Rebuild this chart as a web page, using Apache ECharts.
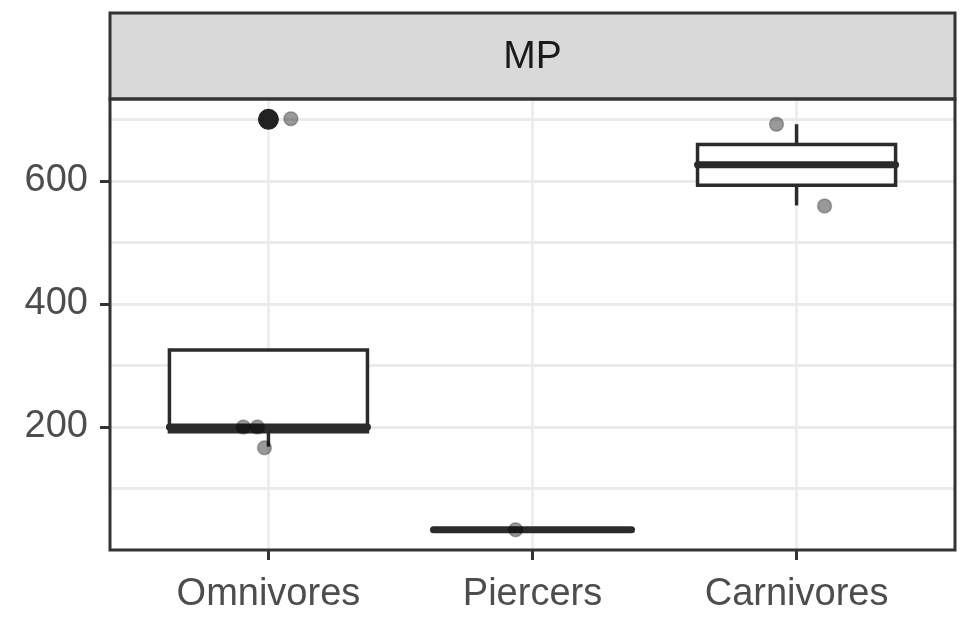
<!DOCTYPE html>
<html><head><meta charset="utf-8">
<script src="https://cdn.jsdelivr.net/npm/echarts@6/dist/echarts.min.js"></script>
<style>html,body{margin:0;padding:0;background:#fff}#c{width:967px;height:621px}</style>
</head><body><div id="c"></div>
<script>
// ---- data ----
const stripLabel = 'MP';
const categories = ['Omnivores', 'Piercers', 'Carnivores'];
const whiskerLow  = [168, 33, 560];
const boxQ1       = [192, 33, 593];
const boxMedian   = [200, 33, 626];
const boxQ3       = [325, 33, 659];
const whiskerHigh = [325, 33, 692];
const outlierCategory = ['Omnivores'];
const outlierValue    = [700];
const pointCategory = ['Omnivores', 'Omnivores', 'Omnivores', 'Omnivores', 'Piercers', 'Carnivores', 'Carnivores'];
const pointJitter   = [0.085, -0.095, -0.042, -0.015, -0.064, -0.076, 0.106];
const pointValue    = [701, 200, 200, 166, 33, 692, 559];
const yTickLabels = [200, 400, 600];

// ---- build ----
const FONT = '"Liberation Sans", Arial, Helvetica, sans-serif';
const catPos = c => categories.indexOf(c) + 1;
const boxData = categories.map((c, i) => [i + 1, whiskerLow[i], boxQ1[i], boxMedian[i], boxQ3[i], whiskerHigh[i]]);
const pointData = pointCategory.map((c, i) => [catPos(c) + pointJitter[i], pointValue[i]]);
const outlierData = outlierCategory.map((c, i) => [catPos(c), outlierValue[i]]);
const HALF = 0.375;

const chart = echarts.init(document.getElementById('c'), null, {renderer: 'canvas'});
chart.setOption({
  animation: false,
  backgroundColor: '#ffffff',
  grid: {left: 110, right: 12, top: 99, bottom: 71, outerBoundsMode: 'none', show: false},
  xAxis: {
    type: 'value', min: 0.4, max: 3.6,
    axisLine: {show: false},
    axisTick: {show: true, customValues: [1, 2, 3], length: 10, lineStyle: {color: '#333333', width: 3}},
    axisLabel: {customValues: [1, 2, 3], margin: 26, color: '#4d4d4d', fontSize: 38, fontFamily: FONT,
      formatter: v => categories[Math.round(v) - 1]},
    splitLine: {show: true, lineStyle: {color: '#ebebeb', width: 2.5}}
  },
  yAxis: [{
    type: 'value', min: 0, max: 733,
    axisLine: {show: false},
    axisTick: {show: true, customValues: yTickLabels, length: 10, lineStyle: {color: '#333333', width: 3}},
    axisLabel: {customValues: yTickLabels, margin: 22, color: '#4d4d4d', fontSize: 38, fontFamily: FONT},
    splitLine: {show: false}
  }, {
    type: 'value', min: 0, max: 733, interval: 100, position: 'left',
    axisLine: {show: false}, axisTick: {show: false}, axisLabel: {show: false},
    splitLine: {show: true, showMinLine: false, showMaxLine: false, lineStyle: {color: '#ebebeb', width: 3}}
  }],
  graphic: [
    {type: 'rect', z: 100, shape: {x: 110, y: 13, width: 845, height: 86},
      style: {fill: '#d9d9d9', stroke: '#333333', lineWidth: 3}},
    {type: 'text', z: 101, x: 532.5, y: 57,
      style: {text: stripLabel, fontSize: 39, fontFamily: FONT, fill: '#1a1a1a', align: 'center', verticalAlign: 'middle'}},
    {type: 'rect', z: 100, shape: {x: 110, y: 99, width: 845, height: 451},
      style: {fill: 'none', stroke: '#333333', lineWidth: 3}}
  ],
  series: [{
    type: 'custom', z: 3,
    data: boxData,
    encode: {x: 0, y: [1, 2, 3, 4, 5]},
    renderItem: function (params, api) {
      const x = api.value(0);
      const lo = api.coord([x, api.value(1)]);
      const q1 = api.coord([x + HALF, api.value(2)]);
      const md = api.coord([x, api.value(3)]);
      const q3 = api.coord([x - HALF, api.value(4)]);
      const hi = api.coord([x, api.value(5)]);
      const cx = md[0];
      const stroke = '#2b2b2b';
      return {type: 'group', children: [
        {type: 'line', shape: {x1: cx, y1: hi[1], x2: cx, y2: q3[1]}, style: {stroke, lineWidth: 3.5}},
        {type: 'line', shape: {x1: cx, y1: q1[1], x2: cx, y2: lo[1]}, style: {stroke, lineWidth: 3.5}},
        {type: 'rect', shape: {x: q3[0], y: q3[1], width: q1[0] - q3[0], height: q1[1] - q3[1]},
          style: {fill: '#ffffff', stroke, lineWidth: 3.5}},
        {type: 'line', shape: {x1: q3[0], y1: md[1], x2: q1[0], y2: md[1]}, style: {stroke, lineWidth: 7, lineCap: 'round'}}
      ]};
    }
  }, {
    type: 'scatter', z: 4, data: outlierData, symbolSize: 21,
    itemStyle: {color: '#222222', opacity: 1}
  }, {
    type: 'scatter', z: 5, data: pointData, symbolSize: 14,
    itemStyle: {color: 'rgba(0,0,0,0.4)', borderColor: 'rgba(0,0,0,0.25)', borderWidth: 1.5, opacity: 1}
  }]
});
</script></body></html>
